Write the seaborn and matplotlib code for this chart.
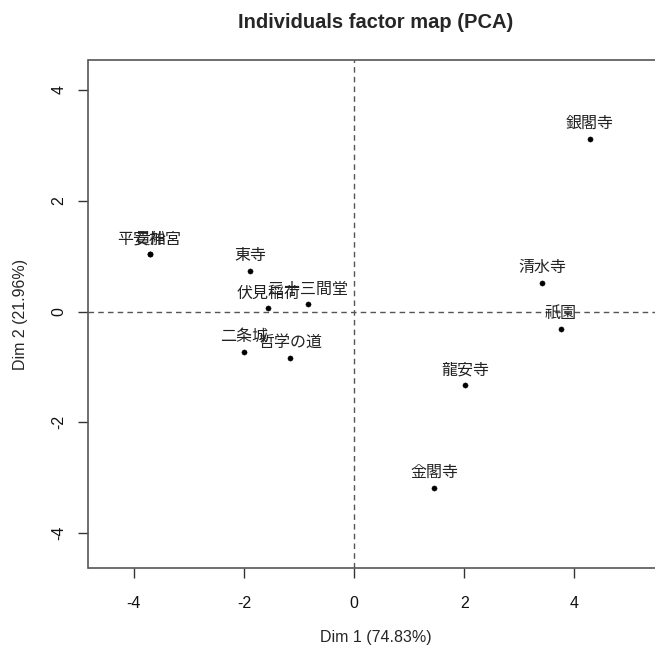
import numpy as np
import pandas as pd
import matplotlib
matplotlib.use("Agg")
import matplotlib.pyplot as plt
import seaborn as sns

# Individuals (PCA scores)
places = ["銀閣寺", "清水寺", "祇園", "龍安寺", "金閣寺", "平安神宮", "貴船",
          "東寺", "伏見稲荷", "三十三間堂", "二条城", "哲学の道"]
dim1 = [4.28, 3.41, 3.75, 2.02, 1.46, -3.71, -3.71,
        -1.89, -1.56, -0.83, -1.99, -1.16]
dim2 = [3.12, 0.52, -0.32, -1.33, -3.18, 1.03, 1.03,
        0.73, 0.06, 0.13, -0.73, -0.84]
xticks = [-4, -2, 0, 2, 4]
yticks = [-4, -2, 0, 2, 4]

df = pd.DataFrame({"place": places, "Dim1": dim1, "Dim2": dim2})

sns.set_style("white")
plt.rcParams['font.family'] = ['Liberation Sans', 'Noto Sans CJK JP', 'DejaVu Sans']
plt.rcParams['axes.unicode_minus'] = False

fig = plt.figure(figsize=(6.55, 6.5), dpi=100)
ax = fig.add_axes([88.5 / 655, (650 - 568) / 650, 574 / 655, 508 / 650])

# dashed reference lines through the origin
ax.axhline(0, color="#555555", lw=1, ls=(0, (4, 3)), zorder=1)
ax.axvline(0, color="#555555", lw=1, ls=(0, (4, 3)), zorder=1)

sns.scatterplot(data=df, x="Dim1", y="Dim2", ax=ax, color="black",
                s=14, edgecolor="black", linewidth=0.3, zorder=3)

for _, row in df.iterrows():
    ax.annotate(row["place"], (row["Dim1"], row["Dim2"]),
                xytext=(0, 11), textcoords="offset points",
                ha="center", va="center", fontsize=11.5,
                family=['Noto Sans CJK JP', 'DejaVu Sans'], color="#222222",
                zorder=4)

ax.set_xlim(-4.82, 5.6)
ax.set_ylim(-4.63, 4.54)
ax.set_xticks(xticks)
ax.set_yticks(yticks)
ax.tick_params(axis="both", direction="out", length=7, width=1, color="#333333",
               labelsize=11.5, labelcolor="#111111", left=True, bottom=True)
ax.tick_params(axis="x", pad=13)
ax.tick_params(axis="y", pad=9)
for lab in ax.get_yticklabels():
    lab.set_rotation(90)
    lab.set_va("center")

for sp in ax.spines.values():
    sp.set_color("#555555")
    sp.set_linewidth(1.2)

ax.set_xlabel("Dim 1 (74.83%)", fontsize=11.5, labelpad=14)
ax.set_ylabel("Dim 2 (21.96%)", fontsize=11.5, labelpad=17)
ax.set_title("Individuals factor map (PCA)", fontsize=14.5, fontweight="bold",
             pad=23)

fig.savefig("out.png", dpi=100)
